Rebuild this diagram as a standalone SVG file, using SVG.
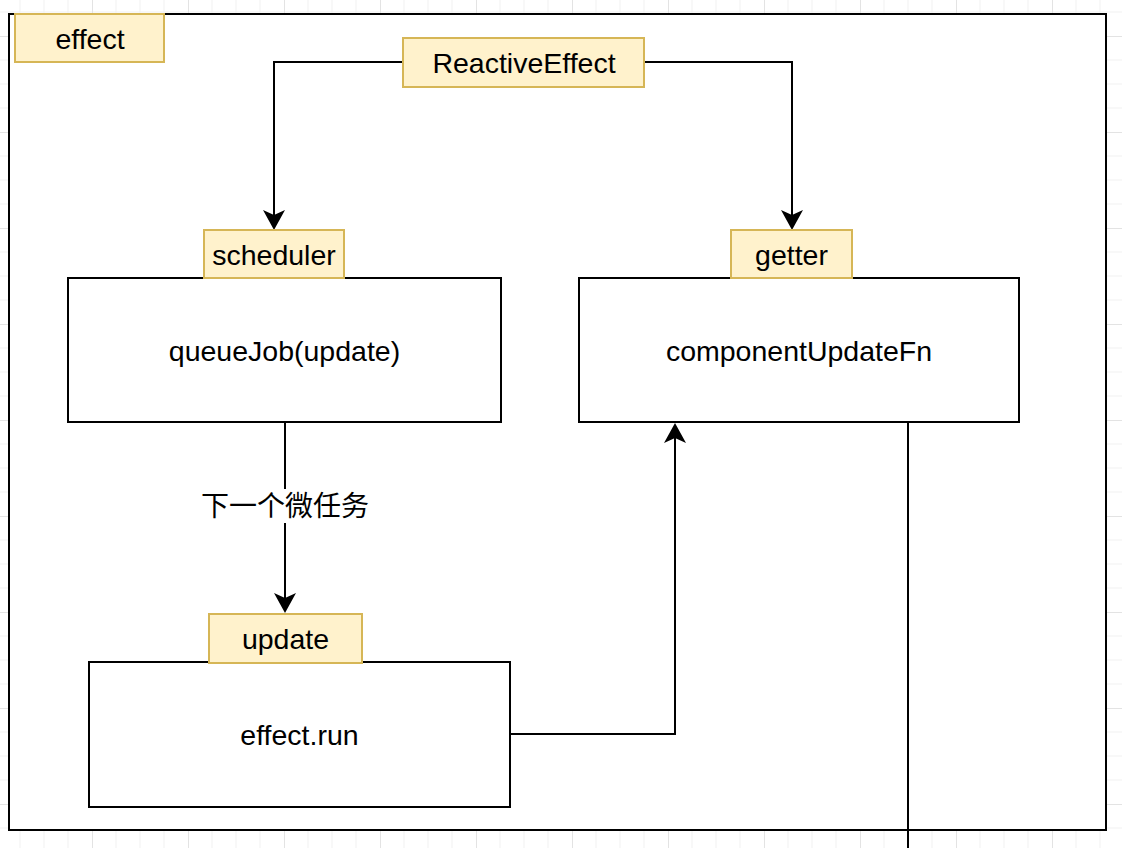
<svg xmlns="http://www.w3.org/2000/svg" width="1122" height="848" viewBox="0 0 1122 848">
<style>
  .box { fill: #ffffff; stroke: #000000; stroke-width: 2; }
  .tag { fill: #fff2cc; stroke: #d6b656; stroke-width: 2; }
  .txt { font-family: "Liberation Sans", Arial, Helvetica, sans-serif; font-size: 28.5px; fill: #000000; text-anchor: middle; }
  .cjk { font-family: "Liberation Sans", "Noto Sans CJK SC", sans-serif; font-size: 28px; fill: #000000; text-anchor: middle; }
  .edge { fill: none; stroke: #000000; stroke-width: 2; }
</style>
<defs>
  <pattern id="grid" patternUnits="userSpaceOnUse" x="-4" y="-60" width="96" height="96">
    <path d="M24,0V96M48,0V96M72,0V96M0,24H96M0,48H96M0,72H96" stroke="#f1f1f1" stroke-width="1" fill="none"/>
    <path d="M0.5,0V96M0,0.5H96" stroke="#e3e3e3" stroke-width="1" fill="none"/>
  </pattern>
  <marker id="arrow" markerUnits="userSpaceOnUse" viewBox="0 0 20 22" refX="15" refY="11" markerWidth="20" markerHeight="22" orient="auto">
    <path d="M0,0 L20,11 L0,22 L5,11 Z" fill="#000000"/>
  </marker>
</defs>
<rect x="0" y="0" width="1122" height="848" fill="#ffffff"/>
<rect x="0" y="0" width="1122" height="848" fill="url(#grid)"/>

<g id="effect-container">
  <rect class="box" x="9" y="14" width="1097" height="816"/>
</g>
<g id="effect-tag">
  <rect class="tag" x="15" y="14" width="149" height="48"/>
  <text class="txt" x="90" y="49">effect</text>
</g>

<g id="connectors">
  <path class="edge" d="M403,62 H274 V225" marker-end="url(#arrow)"/>
  <path class="edge" d="M644,62 H792 V225" marker-end="url(#arrow)"/>
  <path class="edge" d="M285,422 V608" marker-end="url(#arrow)"/>
  <path class="edge" d="M510,734 H675 V428" marker-end="url(#arrow)"/>
  <path class="edge" d="M908,422 V848"/>
  <g id="label-microtask">
    <rect x="198" y="489" width="174" height="34" fill="#ffffff"/>
    <text class="cjk" x="285" y="516">下一个微任务</text>
  </g>
</g>

<g id="reactive-effect">
  <rect class="tag" x="403" y="38" width="241" height="49"/>
  <text class="txt" x="524" y="73">ReactiveEffect</text>
</g>

<g id="queuejob">
  <rect class="box" x="68" y="278" width="433" height="144"/>
  <text class="txt" x="284.5" y="361">queueJob(update)</text>
</g>
<g id="scheduler">
  <rect class="tag" x="204" y="230" width="140" height="48"/>
  <text class="txt" x="274" y="265">scheduler</text>
</g>

<g id="component-update-fn">
  <rect class="box" x="579" y="278" width="440" height="144"/>
  <text class="txt" x="799" y="361">componentUpdateFn</text>
</g>
<g id="getter">
  <rect class="tag" x="731" y="230" width="121" height="48"/>
  <text class="txt" x="791.5" y="265">getter</text>
</g>

<g id="effect-run">
  <rect class="box" x="89" y="662" width="421" height="145"/>
  <text class="txt" x="299.5" y="745">effect.run</text>
</g>
<g id="update">
  <rect class="tag" x="209" y="614" width="153" height="49"/>
  <text class="txt" x="285.5" y="649">update</text>
</g>
</svg>
